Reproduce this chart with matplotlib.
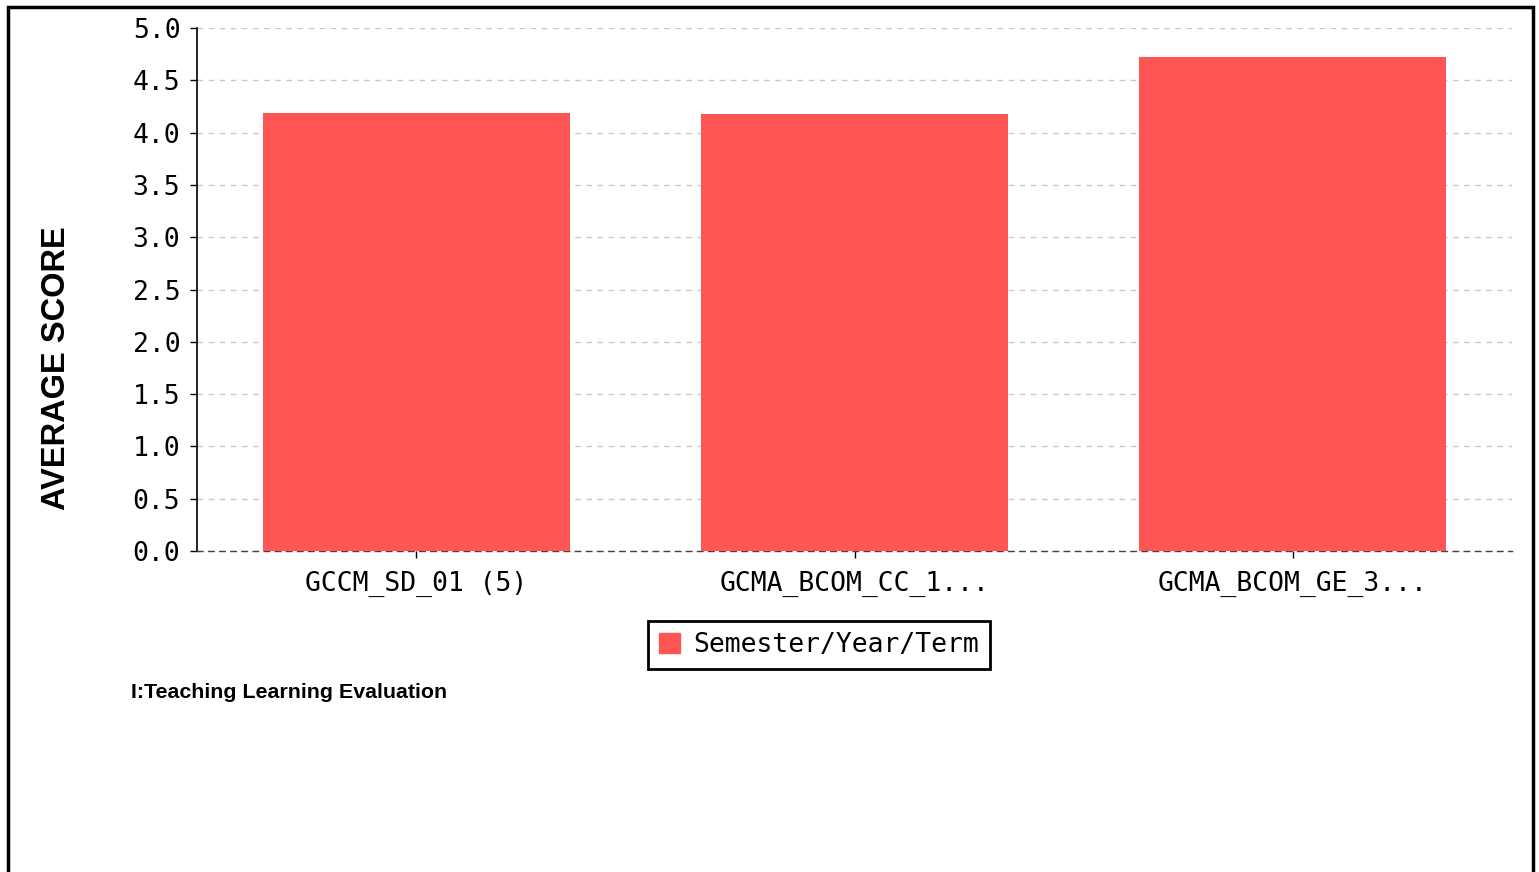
import matplotlib
matplotlib.use('Agg')
import matplotlib.pyplot as plt
from matplotlib.patches import Rectangle, Patch

# data
courses = ['GCCM_SD_01 (5)', 'GCMA_BCOM_CC_1...', 'GCMA_BCOM_GE_3...']
avg_scores = [4.19, 4.18, 4.72]
series_name = 'Semester/Year/Term'
yticks = [0.0, 0.5, 1.0, 1.5, 2.0, 2.5, 3.0, 3.5, 4.0, 4.5, 5.0]

BAR_COLOR = '#FF5555'
MONO = 'DejaVu Sans Mono'
SANS = 'Liberation Sans'

fig = plt.figure(figsize=(15.39, 8.72), dpi=100)
ax = fig.add_axes([197 / 1539, 1 - 551 / 872, (1512 - 197) / 1539, (551 - 28) / 872])

x = range(len(courses))
ax.bar(x, avg_scores, width=0.7, color=BAR_COLOR, zorder=3)

ax.set_xlim(-0.5, 2.5)
ax.set_ylim(0, 5)
ax.set_yticks(yticks)
ax.set_yticklabels([f'{v:.1f}' for v in yticks], fontfamily=MONO, fontsize=19)
ax.set_xticks(list(x))
ax.set_xticklabels(courses, fontfamily=MONO, fontsize=19)
ax.tick_params(axis='both', length=5, width=1, color='black')
ax.tick_params(axis='x', pad=9)
ax.tick_params(axis='y', pad=7)

ax.grid(axis='y', color='#c8c8c8', linestyle=(0, (4, 4)), linewidth=1, zorder=0)
for s in ['top', 'right']:
    ax.spines[s].set_visible(False)
ax.spines['left'].set_linewidth(1.2)
ax.spines['bottom'].set_linestyle((0, (4, 4)))
ax.spines['bottom'].set_color('#444444')
ax.spines['bottom'].set_linewidth(1)

fig.text(57 / 1539, 1 - 368 / 872, 'AVERAGE SCORE', rotation=90, ha='center', va='center',
         fontsize=23.5, fontweight='bold', fontfamily=SANS)

leg = fig.legend(handles=[Patch(color=BAR_COLOR, label=series_name)],
                 loc='center', bbox_to_anchor=(819 / 1539, 1 - 645 / 872),
                 prop={'family': MONO, 'size': 19}, fancybox=False, framealpha=1,
                 edgecolor='black', handlelength=0.8, handleheight=0.8,
                 handletextpad=0.5, borderpad=0.4)
leg.get_frame().set_linewidth(2)

fig.text(131 / 1539, 1 - 692 / 872, 'I:Teaching Learning Evaluation', ha='left', va='center',
         fontsize=15.4, fontweight='bold', fontfamily=SANS)

# outer frame, bottom edge runs off the image
fig.patches.append(Rectangle((8 / 1539, -0.05), (1533 - 8) / 1539, 1.05 - 7 / 872,
                             transform=fig.transFigure, fill=False, edgecolor='black',
                             linewidth=2.5))

fig.savefig('out.png', dpi=100)
